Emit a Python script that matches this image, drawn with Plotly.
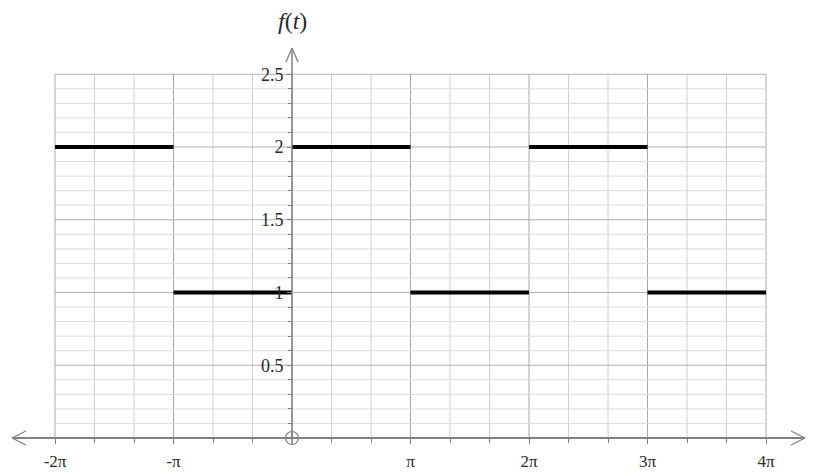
import numpy as np
import plotly.graph_objects as go

PI = np.pi

# piecewise function: value on each interval [start, end] (in units of pi)
seg_start = [-2, -1, 0, 1, 2, 3]
seg_end = [-1, 0, 1, 2, 3, 4]
seg_value = [2, 1, 2, 1, 2, 1]

x_tick_vals = [-2, -1, 1, 2, 3, 4]
x_tick_text = ["-2π", "-π", "π", "2π", "3π", "4π"]
y_tick_vals = [0.5, 1, 1.5, 2, 2.5]
y_tick_text = ["0.5", "1", "1.5", "2", "2.5"]

grid_x_min, grid_x_max = -2 * PI, 4 * PI
grid_y_min, grid_y_max = 0, 2.5

serif = "Liberation Serif, Times New Roman, serif"
axis_col = "#808080"
txt_col = "#2a2a2a"

# axis extents (where the arrow heads sit)
x_lo, x_hi = -2.363 * PI, 4.329 * PI
y_hi = 2.68

fig = go.Figure()

shapes = []
# grid drawn only inside the graph region
for k in range(-6, 13):
    xv = k * PI / 3
    major = k % 3 == 0
    shapes.append(dict(type="line", xref="x", yref="y", x0=xv, x1=xv,
                       y0=grid_y_min, y1=grid_y_max, layer="below",
                       line=dict(color="#a8a8a8" if major else "#d0d0d0", width=1)))
for k in range(0, 26):
    yv = k / 10
    major = k % 5 == 0
    shapes.append(dict(type="line", xref="x", yref="y", x0=grid_x_min, x1=grid_x_max,
                       y0=yv, y1=yv, layer="below",
                       line=dict(color="#b0b0b0" if major else "#dcdcdc", width=1)))

# axis lines
shapes.append(dict(type="line", xref="x", yref="y", x0=x_lo, x1=x_hi, y0=0, y1=0,
                   line=dict(color=axis_col, width=1.8)))
shapes.append(dict(type="line", xref="x", yref="y", x0=0, x1=0, y0=0, y1=y_hi,
                   line=dict(color=axis_col, width=1.5)))

# arrow heads (open chevrons), sized in pixels
for xa, sgn in [(x_lo, 1), (x_hi, -1)]:
    for dy in (7, -7):
        shapes.append(dict(type="line", xref="x", yref="y", xsizemode="pixel", ysizemode="pixel",
                           xanchor=xa, yanchor=0, x0=0, y0=0, x1=14 * sgn, y1=dy,
                           line=dict(color=axis_col, width=1.3)))
for dx in (6, -6):
    shapes.append(dict(type="line", xref="x", yref="y", xsizemode="pixel", ysizemode="pixel",
                       xanchor=0, yanchor=y_hi, x0=0, y0=0, x1=dx, y1=-14,
                       line=dict(color=axis_col, width=1.3)))

# function segments
xs, ys = [], []
for a, b, v in zip(seg_start, seg_end, seg_value):
    xs += [a * PI, b * PI, None]
    ys += [v, v, None]
fig.add_trace(go.Scatter(x=xs, y=ys, mode="lines",
                         line=dict(color="black", width=4), hoverinfo="skip"))

# origin marker
fig.add_trace(go.Scatter(x=[0], y=[0], mode="markers", hoverinfo="skip",
                         marker=dict(symbol="circle-cross-open", size=13,
                                     color=axis_col, line=dict(width=1.2))))

x_minor = [k * PI / 3 for k in range(-6, 13)]
y_minor = [k / 10 for k in range(1, 26)]

fig.update_layout(
    width=814, height=472,
    margin=dict(l=0, r=0, t=0, b=0),
    plot_bgcolor="white", paper_bgcolor="white",
    showlegend=False,
    shapes=shapes,
    font=dict(family=serif, size=17, color=txt_col),
    xaxis=dict(range=[-292 / 118.5 * PI, 522 / 118.5 * PI], showgrid=False, zeroline=False,
               showline=False, automargin=False, anchor="free", position=34 / 472,
               tickvals=[v * PI for v in x_tick_vals], ticktext=x_tick_text,
               ticks="outside", ticklen=5, tickcolor=axis_col, ticklabelstandoff=3,
               minor=dict(tickvals=x_minor, ticks="outside", ticklen=4, tickcolor=axis_col),
               tickfont=dict(family=serif, size=17, color=txt_col)),
    yaxis=dict(range=[-34 / 145.5, 438 / 145.5], showgrid=False, zeroline=False,
               showline=False, automargin=False, anchor="free", position=292 / 814,
               tickvals=y_tick_vals, ticktext=y_tick_text,
               ticks="outside", ticklen=5, tickcolor=axis_col,
               minor=dict(tickvals=y_minor, ticks="outside", ticklen=4, tickcolor=axis_col),
               tickfont=dict(family=serif, size=18, color=txt_col)),
    annotations=[dict(x=0, y=y_hi, xref="x", yref="y", yanchor="bottom", yshift=12,
                      text="<i>f</i>(<i>t</i>)", showarrow=False,
                      font=dict(family=serif, size=24, color=txt_col))],
)

# page has a default body margin; remove it so the figure fills the window
fig.write_html("out.html", config={"displayModeBar": False},
               post_script="document.body.style.margin='0';")
